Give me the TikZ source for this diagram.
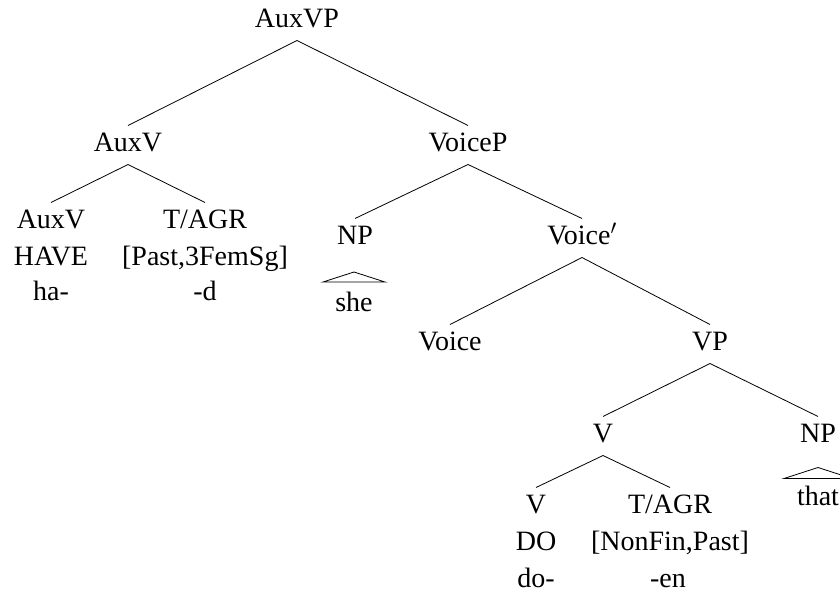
\documentclass[tikz,border=0pt]{standalone}
\usepackage{fontspec}
\setmainfont{Liberation Serif}
\begin{document}
\begin{tikzpicture}[x=1pt,y=-1pt,
  lab/.style={anchor=base,inner sep=0pt,outer sep=0pt,font=\fontsize{28}{33}\selectfont},
  cat/.style={lab,text height=19pt,text depth=7pt,outer ysep=6.5pt},
  branch/.style={line width=0.8pt},
  roof/.style={line width=0.8pt}]
\useasboundingbox (0,0) rectangle (840,592);
\clip (0,0) rectangle (840,592);
% internal nodes
\node[cat] (auxvp) at (297,27) {AuxVP};
\node[cat] (auxv) at (128,151) {AuxV};
\node[cat] (voicep) at (468,151) {VoiceP};
\node[cat] (np1) at (355,244) {NP};
\node[cat] (voicebar) at (582,244) {Voice$'$};
\node[cat] (voice) at (450,350) {Voice};
\node[cat] (vp) at (710,350) {VP};
\node[cat] (v) at (603,442) {V};
\node[cat] (np2) at (818,442) {NP};
% leaves under AuxV
\node[cat] (auxvleaf) at (51,228) {AuxV};
\node[lab] (have) at (51,265) {HAVE};
\node[lab] (ha) at (51,300) {ha-};
\node[cat] (tagr1) at (205,228) {T/AGR};
\node[lab] (feat1) at (205,265) {[Past,3FemSg]};
\node[lab] (d) at (205,300) {-d};
% leaves under V
\node[cat] (vleaf) at (536,513) {V};
\node[lab] (do) at (536,550) {DO};
\node[lab] (doo) at (536,587) {do-};
\node[cat] (tagr2) at (670,513) {T/AGR};
\node[lab] (feat2) at (670,550) {[NonFin,Past]};
\node[lab] (en) at (668,587) {-en};
% roofed NPs
\coordinate (roof1) at (354,272);
\node[lab] (she) at (354,311) {she};
\coordinate (roof2) at (818,467.5);
\node[lab] (that) at (818,505) {that};
% branches
\draw[branch] (auxvp.south) -- (auxv.north);
\draw[branch] (auxvp.south) -- (voicep.north);
\draw[branch] (auxv.south) -- (auxvleaf.north);
\draw[branch] (auxv.south) -- (tagr1.north);
\draw[branch] (voicep.south) -- (np1.north);
\draw[branch] (voicep.south) -- (voicebar.north);
\draw[branch] (voicebar.south) -- (voice.north);
\draw[branch] (voicebar.south) -- (vp.north);
\draw[branch] (vp.south) -- (v.north);
\draw[branch] (vp.south) -- (np2.north);
\draw[branch] (v.south) -- (vleaf.north);
\draw[branch] (v.south) -- (tagr2.north);
\draw[roof] (roof1) -- ++(-31,10) -- ++(62,0) -- cycle;
\draw[roof] (roof2) -- ++(-34,11) -- ++(68,0) -- cycle;
\end{tikzpicture}
\end{document}
